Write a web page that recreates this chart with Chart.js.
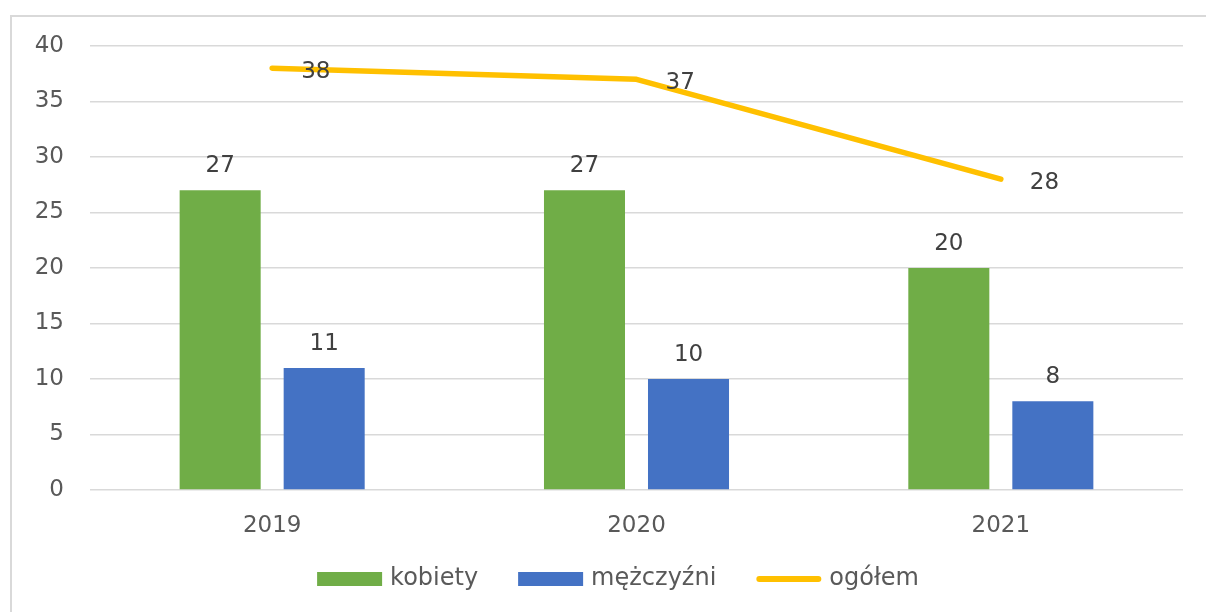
<!DOCTYPE html>
<html>
<head>
<meta charset="utf-8">
<script src="https://cdn.jsdelivr.net/npm/chart.js@4"></script>
<style>
  html, body { margin: 0; padding: 0; background: #fff; overflow: hidden; }
  #wrap { width: 1206px; height: 612px; }
</style>
</head>
<body>
<div id="wrap"><canvas id="chart" width="1206" height="612"></canvas></div>
<script>
// Liczba osób w latach 2019-2021
const years = ["2019", "2020", "2021"];
const kobiety = [27, 27, 20];
const mezczyzni = [11, 10, 8];
const ogolem = [38, 37, 28];
const yTicks = [0, 5, 10, 15, 20, 25, 30, 35, 40];

const NUM_FONT = "23px 'DejaVu Sans'";
const LEGEND_FONT = "24px 'DejaVu Sans'";

// frame around the chart: only left and top edges are visible
const framePlugin = {
  id: "frame",
  beforeDraw(chart) {
    const ctx = chart.ctx;
    ctx.save();
    ctx.fillStyle = "#fff";
    ctx.fillRect(0, 0, chart.width, chart.height);
    ctx.strokeStyle = "#D9D9D9";
    ctx.lineWidth = 2;
    ctx.beginPath();
    ctx.moveTo(11, chart.height);
    ctx.lineTo(11, 16);
    ctx.lineTo(chart.width, 16);
    ctx.stroke();
    ctx.restore();
  }
};

// value labels: above the bars, right of the line points
const labelsPlugin = {
  id: "valueLabels",
  afterDatasetsDraw(chart) {
    const ctx = chart.ctx;
    ctx.save();
    ctx.font = NUM_FONT;
    ctx.fillStyle = "#404040";
    ctx.textBaseline = "alphabetic";
    chart.data.datasets.forEach((ds, i) => {
      const meta = chart.getDatasetMeta(i);
      meta.data.forEach((el, j) => {
        const v = ds.data[j];
        if (ds.type === "line") {
          ctx.textAlign = "left";
          ctx.fillText(v, el.x + 29, el.y + 10);
        } else {
          ctx.textAlign = "center";
          ctx.fillText(v, el.x, el.y - 18);
        }
      });
    });
    ctx.restore();
  }
};

// legend row under the axis
const legendPlugin = {
  id: "bottomLegend",
  afterDraw(chart) {
    const ctx = chart.ctx;
    const cy = 579;
    const gap = 8, between = 40, sw = 65;
    ctx.save();
    ctx.font = LEGEND_FONT;
    const items = chart.data.datasets.map(ds => ({
      label: ds.label,
      color: ds.type === "line" ? ds.borderColor : ds.backgroundColor,
      line: ds.type === "line",
      w: ctx.measureText(ds.label).width
    }));
    let total = 0;
    items.forEach((it, k) => { total += sw + gap + it.w + (k ? between : 0); });
    let x = 618 - total / 2;
    items.forEach(it => {
      if (it.line) {
        ctx.strokeStyle = it.color;
        ctx.lineWidth = 6;
        ctx.lineCap = "round";
        ctx.beginPath();
        ctx.moveTo(x + 3, cy);
        ctx.lineTo(x + sw - 3, cy);
        ctx.stroke();
      } else {
        ctx.fillStyle = it.color;
        ctx.fillRect(x, cy - 7, sw, 14);
      }
      x += sw + gap;
      ctx.fillStyle = "#595959";
      ctx.textAlign = "left";
      ctx.textBaseline = "middle";
      ctx.fillText(it.label, x, cy);
      x += it.w + between;
    });
    ctx.restore();
  }
};

new Chart(document.getElementById("chart").getContext("2d"), {
  data: {
    labels: years,
    datasets: [
      {
        type: "bar",
        label: "kobiety",
        data: kobiety,
        backgroundColor: "#70AD47",
        categoryPercentage: 0.571,
        barPercentage: 0.779,
        order: 1
      },
      {
        type: "bar",
        label: "mężczyźni",
        data: mezczyzni,
        backgroundColor: "#4472C4",
        categoryPercentage: 0.571,
        barPercentage: 0.779,
        order: 1
      },
      {
        type: "line",
        label: "ogółem",
        data: ogolem,
        borderColor: "#FFC000",
        backgroundColor: "#FFC000",
        borderWidth: 5.5,
        borderCapStyle: "round",
        borderJoinStyle: "round",
        pointRadius: 0,
        tension: 0,
        order: 0
      }
    ]
  },
  options: {
    responsive: false,
    animation: false,
    events: [],
    layout: { padding: { left: 10, top: 46, right: 23, bottom: 0 } },
    plugins: {
      legend: { display: false },
      tooltip: { enabled: false }
    },
    scales: {
      x: {
        offset: true,
        grid: { display: false },
        border: { display: false },
        ticks: { color: "#595959", font: { family: "DejaVu Sans", size: 23 }, padding: 14 },
        afterFit: s => { s.height = 122; }
      },
      y: {
        min: 0,
        max: 40,
        afterBuildTicks: s => { s.ticks = yTicks.map(v => ({ value: v })); },
        grid: { color: "#D9D9D9", lineWidth: 1.5, drawTicks: false },
        border: { display: false },
        ticks: { color: "#595959", font: { family: "DejaVu Sans", size: 23 }, padding: 26 },
        afterFit: s => { s.width = 80; }
      }
    }
  },
  plugins: [framePlugin, labelsPlugin, legendPlugin]
});
</script>
</body>
</html>
